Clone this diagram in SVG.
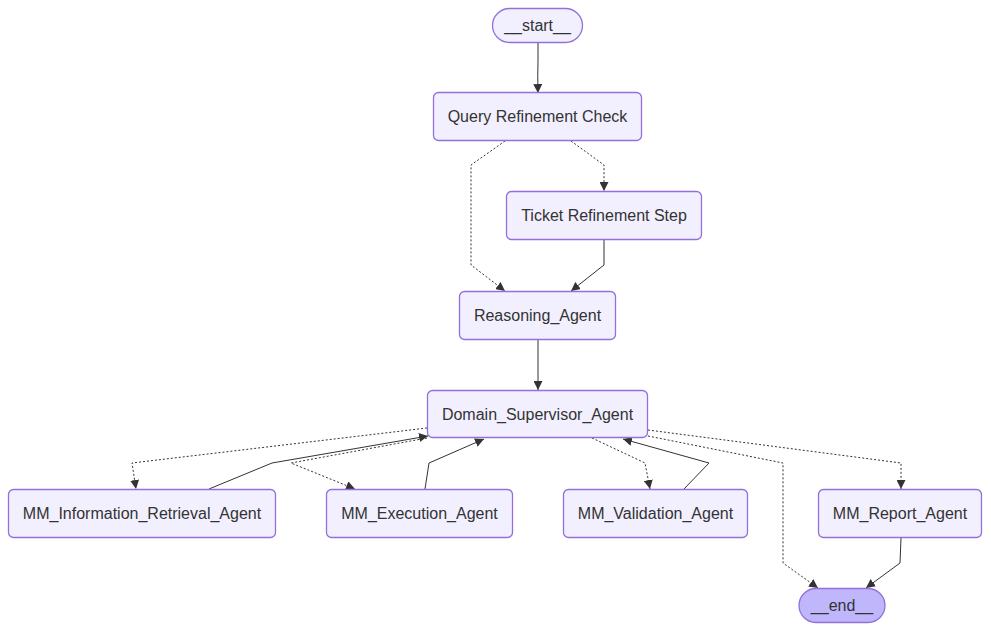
<svg xmlns="http://www.w3.org/2000/svg" width="991" height="630" viewBox="0 0 991 630">
<style>
.node rect{fill:#f2f0ff;stroke:#9370db;stroke-width:1.3}
.node.end rect{fill:#bfb6fc}
.node text{font-family:"Liberation Sans",Arial,sans-serif;font-size:16px;fill:#333;text-anchor:middle;dominant-baseline:central}
.edge{fill:none;stroke:#333;stroke-width:1}
.dot{stroke-dasharray:2 2}
</style>
<defs>
<marker id="arr" viewBox="0 0 10 10" refX="10" refY="5" markerWidth="9" markerHeight="9" markerUnits="userSpaceOnUse" orient="auto">
<path d="M0 0 L10 5 L0 10 z" fill="#333"/>
</marker>
</defs>
<rect width="991" height="630" fill="#fff"/>
<g id="connectors">
<path class="edge" d="M538 42 L538 60 Q537.5 75 538 93" marker-end="url(#arr)"/>
<path class="edge dot" d="M571 141 L604 165 L604 191" marker-end="url(#arr)"/>
<path class="edge dot" d="M505 141 L471 165 L471 265 L505 291" marker-end="url(#arr)"/>
<path class="edge" d="M604 240 L604 265 L571 291" marker-end="url(#arr)"/>
<path class="edge" d="M538 340 L538 365 L538 390" marker-end="url(#arr)"/>
<path class="edge dot" d="M427 428 L132 463 L136 489" marker-end="url(#arr)"/>
<path class="edge" d="M209 489 L272 463 L428 436" marker-end="url(#arr)"/>
<path class="edge dot" d="M427 438 L291 463 L355 489" marker-end="url(#arr)"/>
<path class="edge" d="M425 489 L429 463 L484 439" marker-end="url(#arr)"/>
<path class="edge dot" d="M592 438 L645 463 L650 489" marker-end="url(#arr)"/>
<path class="edge" d="M684 489 L709 463 L623 439" marker-end="url(#arr)"/>
<path class="edge dot" d="M648 436 L783 463 L783 563 L818 588" marker-end="url(#arr)"/>
<path class="edge dot" d="M648 430 L901 463 L901 489" marker-end="url(#arr)"/>
<path class="edge" d="M901 538 L900 563 L866 588" marker-end="url(#arr)"/>
</g>
<g id="start" class="node"><rect x="492.5" y="8.5" width="90" height="34" rx="17"/><text x="537.5" y="25.5">__start__</text></g>
<g id="query_refinement_check" class="node"><rect x="433.5" y="92.5" width="208" height="48" rx="5"/><text x="537.5" y="116.5">Query Refinement Check</text></g>
<g id="ticket_refinement_step" class="node"><rect x="506.5" y="191.5" width="195" height="48" rx="5"/><text x="604" y="215.5">Ticket Refinement Step</text></g>
<g id="reasoning_agent" class="node"><rect x="459.5" y="291.5" width="156" height="48" rx="5"/><text x="537.5" y="315.5">Reasoning_Agent</text></g>
<g id="domain_supervisor_agent" class="node"><rect x="427.5" y="390.5" width="220" height="47" rx="5"/><text x="537.5" y="414">Domain_Supervisor_Agent</text></g>
<g id="mm_information_retrieval_agent" class="node"><rect x="8.5" y="489.5" width="267" height="48" rx="5"/><text x="142" y="513.5">MM_Information_Retrieval_Agent</text></g>
<g id="mm_execution_agent" class="node"><rect x="326.5" y="489.5" width="186" height="48" rx="5"/><text x="419.5" y="513.5">MM_Execution_Agent</text></g>
<g id="mm_validation_agent" class="node"><rect x="563.5" y="489.5" width="184" height="48" rx="5"/><text x="655.5" y="513.5">MM_Validation_Agent</text></g>
<g id="mm_report_agent" class="node"><rect x="818.5" y="489.5" width="163" height="48" rx="5"/><text x="900" y="513.5">MM_Report_Agent</text></g>
<g id="end" class="node end"><rect x="799" y="588.5" width="86" height="34" rx="17"/><text x="842" y="605.5">__end__</text></g>
</svg>
